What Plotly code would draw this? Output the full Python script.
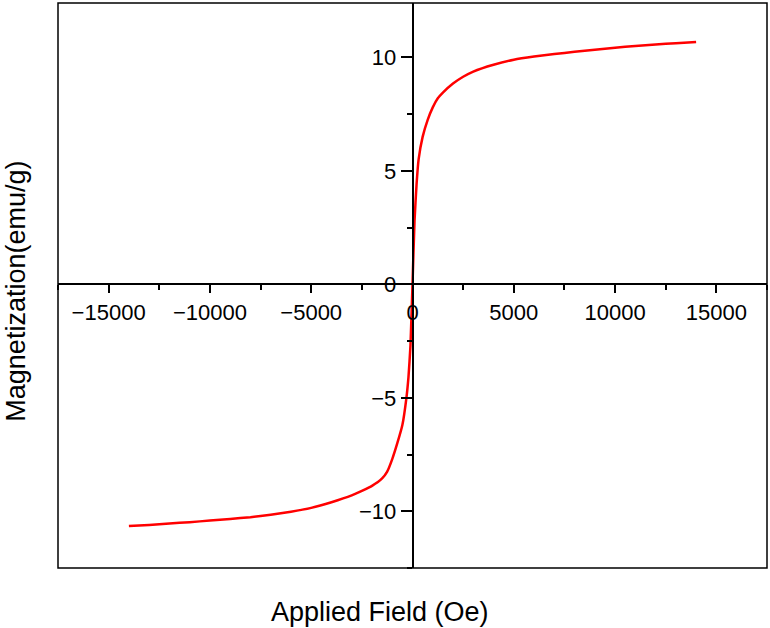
import plotly.graph_objects as go

field_oe = [-14000, -13000, -12000, -11000, -10000, -9000, -8000, -7000, -6000, -5000,
            -4000, -3000, -2500, -2000, -1500, -1250, -1000, -750, -500, -300, -200, -100, 0,
            100, 200, 300, 500, 750, 1000, 1250, 1500, 2000, 2500, 3000,
            4000, 5000, 6000, 7000, 8000, 9000, 10000, 11000, 12000, 13000, 14000]
magnetization = [-10.65, -10.6, -10.54, -10.48, -10.41, -10.34, -10.26, -10.15, -10.02, -9.85,
                 -9.6, -9.3, -9.1, -8.88, -8.55, -8.25, -7.7, -7.0, -6.2, -5.0, -4.1, -2.7, 0.0,
                 2.8, 4.4, 5.5, 6.5, 7.25, 7.8, 8.2, 8.45, 8.85, 9.15, 9.38,
                 9.68, 9.9, 10.04, 10.15, 10.25, 10.34, 10.43, 10.51, 10.57, 10.63, 10.68]

x_ticks = [-15000, -10000, -5000, 0, 5000, 10000, 15000]
y_ticks = [-10, -5, 0, 5, 10]
x_range = [-17500, 17500]
y_range = [-12.5, 12.4]

FONT = "Liberation Sans, Arial, sans-serif"

fig = go.Figure()
fig.add_trace(go.Scatter(x=field_oe, y=magnetization, mode="lines",
                         line=dict(color="#ff0000", width=2.5, shape="spline", smoothing=0.4),
                         showlegend=False))

x0_frac = (0 - x_range[0]) / (x_range[1] - x_range[0])
y0_frac = (0 - y_range[0]) / (y_range[1] - y_range[0])


def fmt(v):
    return f"{v:d}".replace("-", "\u2212")


fig.update_layout(
    width=770, height=628,
    margin=dict(l=58, r=3, t=3, b=60),
    paper_bgcolor="white", plot_bgcolor="white",
    font=dict(family=FONT, size=22, color="black"),
    xaxis=dict(range=x_range, tickvals=x_ticks, ticktext=[fmt(v) for v in x_ticks],
               showgrid=False, zeroline=False, showline=True, linecolor="black", linewidth=1.5,
               ticks="outside", ticklen=8, tickwidth=1.5, tickcolor="black",
               minor=dict(dtick=2500, tick0=0, ticks="outside", ticklen=5, tickwidth=1.5, tickcolor="black"),
               anchor="free", position=y0_frac, tickfont=dict(size=22)),
    yaxis=dict(range=y_range, tickvals=y_ticks, ticktext=[fmt(v) for v in y_ticks],
               showgrid=False, zeroline=False, showline=True, linecolor="black", linewidth=1.5,
               ticks="outside", ticklen=11, tickwidth=1.5, tickcolor="black",
               minor=dict(dtick=2.5, tick0=0, ticks="outside", ticklen=5, tickwidth=1.5, tickcolor="black"),
               anchor="free", position=x0_frac, tickfont=dict(size=22)),
    shapes=[dict(type="rect", xref="paper", yref="paper", x0=0, x1=1, y0=0, y1=1,
                 line=dict(color="black", width=1.5), fillcolor="rgba(0,0,0,0)", layer="above")],
    annotations=[
        dict(text="Applied Field (Oe)", xref="paper", yref="paper", x=0.454, y=-0.078,
             xanchor="center", yanchor="middle", showarrow=False, font=dict(size=27)),
        dict(text="Magnetization(emu/g)", xref="paper", yref="paper", x=-0.0585, y=0.49,
             xanchor="center", yanchor="middle", textangle=-90, showarrow=False, font=dict(size=27)),
    ],
)

fig.write_html("out.html")
